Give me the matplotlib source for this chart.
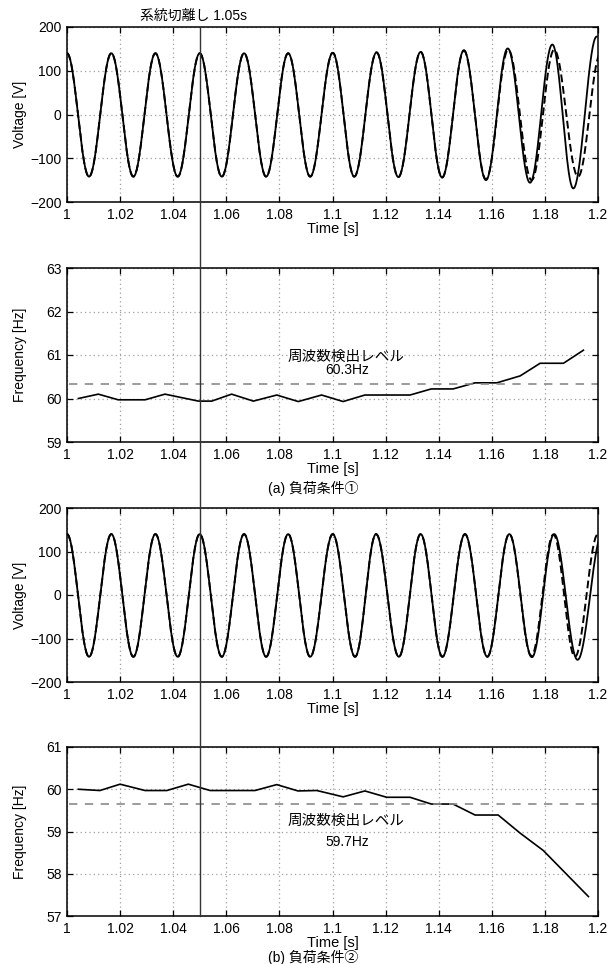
import numpy as np
import matplotlib
matplotlib.use("Agg")
import matplotlib.pyplot as plt
from matplotlib.lines import Line2D

plt.rcParams['font.family'] = ['Liberation Sans', 'Noto Sans CJK JP']
plt.rcParams['font.size'] = 10

# --- data ---
# voltage waveform extrema (time [s], value [V]); curve is drawn through them
# case (a)
a_solid_t = [1.0000, 1.0083, 1.0167, 1.0250, 1.0333, 1.0417, 1.0500, 1.0583, 1.0667,
             1.0750, 1.0833, 1.0916, 1.1001, 1.1082, 1.1166, 1.1248, 1.1332, 1.1413,
             1.1495, 1.1578, 1.1660, 1.1744, 1.1828, 1.1907, 1.1995]
a_solid_v = [140, -142, 140, -142, 140, -142, 140, -142, 140,
             -142, 140, -142, 141, -142, 142, -143, 143, -144,
             147, -150, 151, -156, 160, -169, 178]
a_dash_t = [1.0000, 1.0083, 1.0167, 1.0250, 1.0333, 1.0417, 1.0500, 1.0583, 1.0667,
            1.0750, 1.0833, 1.0916, 1.1001, 1.1082, 1.1166, 1.1248, 1.1332, 1.1413,
            1.1495, 1.1578, 1.1662, 1.1750, 1.1835, 1.1925, 1.2010]
a_dash_v = [140, -142, 140, -142, 140, -142, 140, -142, 140,
            -142, 140, -142, 141, -142, 142, -143, 143, -144,
            146, -148, 148, -150, 148, -142, 140]
# case (b)
b_solid_t = [1.0000, 1.0083, 1.0167, 1.0250, 1.0333, 1.0417, 1.0500, 1.0583, 1.0667,
             1.0750, 1.0833, 1.0916, 1.1001, 1.1085, 1.1164, 1.1250, 1.1332, 1.1414,
             1.1499, 1.1583, 1.1666, 1.1751, 1.1835, 1.1923, 1.2016]
b_solid_v = [140, -142, 140, -142, 140, -142, 140, -142, 140,
             -142, 140, -142, 140, -142, 140, -142, 140, -142,
             140, -142, 140, -143, 140, -149, 140]
b_dash_t = [1.0000, 1.0083, 1.0167, 1.0250, 1.0333, 1.0417, 1.0500, 1.0583, 1.0667,
            1.0750, 1.0833, 1.0916, 1.1001, 1.1085, 1.1164, 1.1250, 1.1332, 1.1414,
            1.1499, 1.1583, 1.1666, 1.1749, 1.1832, 1.1913, 1.2000]
b_dash_v = [140, -142, 140, -142, 140, -142, 140, -142, 140,
            -142, 140, -142, 140, -142, 140, -142, 140, -142,
            140, -142, 140, -140, 139, -142, 140]

# measured frequency
a_freq_t = [1.0043, 1.0118, 1.0193, 1.0294, 1.0369, 1.0495, 1.0545, 1.0620, 1.0702,
            1.0790, 1.0871, 1.0959, 1.1040, 1.1122, 1.1292, 1.1372, 1.1454, 1.1537,
            1.1619, 1.1707, 1.1782, 1.1870, 1.1945]
a_freq = [60.00, 60.10, 59.97, 59.97, 60.10, 59.94, 59.94, 60.10, 59.94,
          60.08, 59.93, 60.08, 59.93, 60.08, 60.08, 60.22, 60.22, 60.36,
          60.36, 60.52, 60.81, 60.81, 61.11]
b_freq_t = [1.0043, 1.0124, 1.0200, 1.0294, 1.0376, 1.0457, 1.0539, 1.0708, 1.0790,
            1.0870, 1.0941, 1.1040, 1.1122, 1.1204, 1.1292, 1.1372, 1.1454, 1.1537,
            1.1624, 1.1707, 1.1794, 1.1964]
b_freq = [60.00, 59.97, 60.12, 59.97, 59.97, 60.12, 59.97, 59.97, 60.11,
          59.96, 59.97, 59.82, 59.96, 59.81, 59.81, 59.65, 59.65, 59.39,
          59.39, 58.96, 58.55, 57.46]

a_level = 60.33
b_level = 59.64
t_cut = 1.05
xticks = [1, 1.02, 1.04, 1.06, 1.08, 1.1, 1.12, 1.14, 1.16, 1.18, 1.2]
xticklabels = ['1', '1.02', '1.04', '1.06', '1.08', '1.1', '1.12', '1.14', '1.16', '1.18', '1.2']


def wave(ts, vs, n=40):
    # half-cosine between successive peaks / troughs
    tt, vv = [], []
    for i in range(len(ts) - 1):
        s = np.linspace(0, 1, n, endpoint=False)
        tt.append(ts[i] + (ts[i + 1] - ts[i]) * s)
        vv.append(vs[i] + (vs[i + 1] - vs[i]) * (1 - np.cos(np.pi * s)) / 2)
    tt.append([ts[-1]])
    vv.append([vs[-1]])
    return np.concatenate(tt), np.concatenate(vv)


W, H = 616, 964
fig = plt.figure(figsize=(W / 100, H / 100), dpi=100)

left = 67 / W
width = 531 / W
boxes = [(27, 202), (268, 442), (508, 682), (747, 916)]
axs = [fig.add_axes([left, 1 - b / H, width, (b - t) / H]) for t, b in boxes]


def style(ax, ylim, yticks, ylabel):
    ax.set_xlim(1, 1.2)
    ax.set_ylim(*ylim)
    ax.set_xticks(xticks)
    ax.set_xticklabels(xticklabels)
    ax.set_yticks(yticks)
    ax.grid(True, color='#a0a0a0', linestyle=(0, (1, 2.5)), linewidth=0.9)
    ax.tick_params(direction='in', top=True, right=True, length=4, width=0.9,
                   labelsize=10, pad=4)
    for s in ax.spines.values():
        s.set_linewidth(1.1)
    h = ax.get_position().height * H
    ax.text(0.5, -27 / h, 'Time [s]', transform=ax.transAxes, ha='center', va='center',
            fontsize=10.5)
    ax.text(-47 / 531, 0.5, ylabel, transform=ax.transAxes, rotation=90,
            ha='center', va='center', fontsize=10)


# voltage panels
for ax, st, sv, dt, dv in [(axs[0], a_solid_t, a_solid_v, a_dash_t, a_dash_v),
                           (axs[2], b_solid_t, b_solid_v, b_dash_t, b_dash_v)]:
    x, y = wave(dt, dv)
    ax.plot(x, y, color='black', lw=1.4, linestyle=(0, (4, 2)))
    x, y = wave(st, sv)
    ax.plot(x, y, color='black', lw=1.3)
    style(ax, (-200, 200), [-200, -100, 0, 100, 200], 'Voltage [V]')

# frequency panels
axs[1].plot(a_freq_t, a_freq, color='black', lw=1.2)
axs[1].axhline(a_level, color='#8a8a8a', lw=1.2, linestyle=(0, (5, 4.5)), xmin=0.003)
style(axs[1], (59, 63), [59, 60, 61, 62, 63], 'Frequency [Hz]')
axs[1].text(1.1051, 60.95, '周波数検出レベル', ha='center', va='center', fontsize=10.5)
axs[1].text(1.1056, 60.65, '60.3Hz', ha='center', va='center', fontsize=10)

axs[3].plot(b_freq_t, b_freq, color='black', lw=1.2)
axs[3].axhline(b_level, color='#8a8a8a', lw=1.2, linestyle=(0, (5, 4.5)), xmin=0.003)
style(axs[3], (57, 61), [57, 58, 59, 60, 61], 'Frequency [Hz]')
axs[3].text(1.1051, 59.24, '周波数検出レベル', ha='center', va='center', fontsize=10.5)
axs[3].text(1.1056, 58.75, '59.7Hz', ha='center', va='center', fontsize=10)

# islanding line across all panels
xf = left + width * (t_cut - 1) / 0.2
fig.add_artist(Line2D([xf, xf], [1 - 916 / H, 1 - 27 / H], transform=fig.transFigure,
                      color='#333333', lw=1.0))
fig.text(193 / W, 1 - 16 / H, '系統切離し 1.05s', ha='center', va='center', fontsize=10)

fig.text(313 / W, 1 - 488 / H, '(a) 負荷条件①', ha='center', va='center', fontsize=10)
fig.text(313 / W, 1 - 957 / H, '(b) 負荷条件②', ha='center', va='center', fontsize=10)

fig.savefig('out.png', dpi=100)
